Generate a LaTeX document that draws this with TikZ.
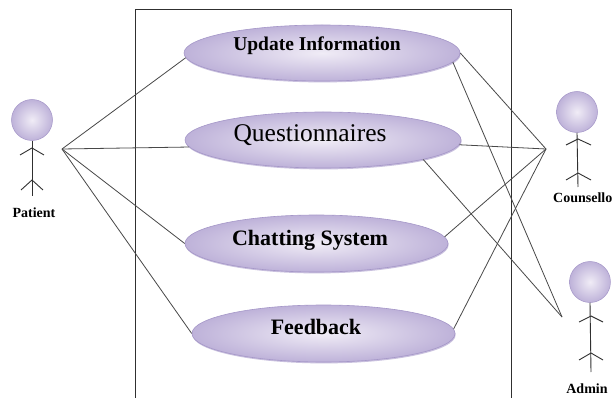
\documentclass[tikz,border=0pt]{standalone}
\usepackage{fontspec}
\setmainfont{Liberation Serif}
\usetikzlibrary{shapes.geometric,shadows}
\definecolor{ucin}{HTML}{F0ECF6}
\definecolor{ucout}{HTML}{BEB2D9}
\definecolor{ucrim}{HTML}{A597C8}
\definecolor{linec}{HTML}{484848}
\definecolor{stickc}{HTML}{303030}
\begin{document}
\begin{tikzpicture}[x=1pt,y=-1pt,
  usecase/.style={ellipse, draw=ucrim, line width=0.6pt, inner color=ucin, outer color=ucout,
    drop shadow={shadow xshift=0.6pt, shadow yshift=-1.4pt, fill=ucrim, opacity=0.6}, inner sep=0pt},
  head/.style={circle, draw=ucrim, line width=0.5pt, inner color=ucin, outer color=ucout, inner sep=0pt, minimum size=41pt},
  stick/.style={draw=stickc, line width=0.9pt},
  conn/.style={draw=linec, line width=0.8pt},
  sysline/.style={draw=stickc, line width=0.9pt},
  uclabel/.style={anchor=base, inner sep=0pt, text=black},
  actlabel/.style={inner sep=0pt, font=\fontsize{14}{16}\selectfont\bfseries}]
\useasboundingbox (0,0) rectangle (613,398);
\clip (0,0) rectangle (613,398);
\fill[white] (0,0) rectangle (613,398);

% system boundary
\draw[sysline] (135,398) -- (135,9) -- (511,9) -- (511,398);

% use cases
\node[usecase, minimum width=276pt, minimum height=56pt] (ui) at (322,53) {};
\node[usecase, minimum width=276pt, minimum height=56pt] (q) at (323,140) {};
\node[usecase, minimum width=263pt, minimum height=57pt] (cs) at (316.5,243.5) {};
\node[usecase, minimum width=263pt, minimum height=57pt] (fb) at (323.5,333.5) {};

\node[uclabel, font=\fontsize{19.5}{22}\selectfont\bfseries] (uit) at (317,51) {Update Information};
\node[uclabel, font=\fontsize{25.5}{28}\selectfont] (qt) at (310,142) {Questionnaires};
\node[uclabel, font=\fontsize{22}{24}\selectfont\bfseries] (cst) at (310,245) {Chatting System};
\node[uclabel, font=\fontsize{22}{24}\selectfont\bfseries] (fbt) at (316,334) {Feedback};

% actor: Patient
\node[head] (ph) at (32,120) {};
\draw[stick] (ph.south) -- (32,196);
\draw[stick] (20,155) -- (32,148) -- (44,155);
\draw[stick] (21,190) -- (32,180) -- (43,190);
\node[actlabel, anchor=base] (pl) at (34,218) {Patient};
\coordinate (P) at (62,149);

% actor: Counsellor
\node[head] (ch) at (577,112) {};
\draw[stick] (ch.south) -- (578,187);
\draw[stick] (566,145) -- (578,139) -- (591,145);
\draw[stick] (566,180) -- (578,173) -- (591,180);
\node[actlabel, anchor=base west] (cl) at (553,203) {Counsello};
\coordinate (C) at (546,149);

% actor: Admin
\node[head] (ah) at (590,282) {};
\draw[stick] (ah.south) -- (591,372);
\draw[stick] (579,322) -- (591,316) -- (603,322);
\draw[stick] (579,360) -- (591,353) -- (603,360);
\node[actlabel, anchor=base] (al) at (587,393) {Admin};
\coordinate (A) at (562,317);

% associations
\draw[conn] (P) -- (ui.182);
\draw[conn] (P) -- (q.183);
\draw[conn] (P) -- (cs.west);
\draw[conn] (P) -- (fb.west);

\draw[conn] (ui.east) -- (C);
\draw[conn] (ui.-4) -- (A);
\draw[conn] (q.-2) -- (C);
\draw[conn] (q.-11) -- (A);
\draw[conn] (cs.3) -- (C);
\draw[conn] (fb.2) -- (C);
\end{tikzpicture}
\end{document}
